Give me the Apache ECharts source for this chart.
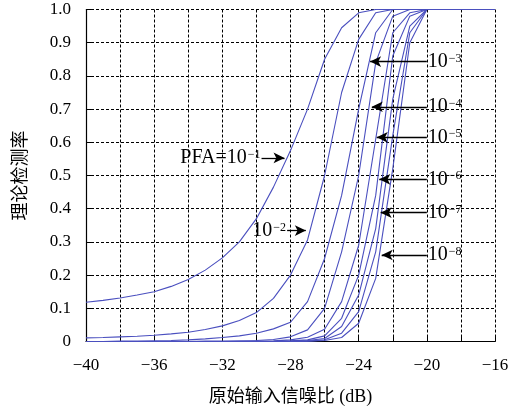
<!DOCTYPE html>
<html>
<head>
<meta charset="utf-8">
<script src="https://cdn.jsdelivr.net/npm/echarts@6/dist/echarts.min.js"></script>
<style>
html,body{margin:0;padding:0;background:#fff;}
#chart{width:516px;height:410px;}
</style>
</head>
<body>
<div id="chart"></div>
<script>
// SNR (dB)
const snr = [-40,-39,-38,-37,-36,-35,-34,-33,-32,-31,-30,-29,-28,-27,-26,-25,-24,-23,-22,-21,-20,-19,-18,-17,-16];
// detection probability curves, left to right
const pd1 = [0.118,0.124,0.131,0.14,0.15,0.166,0.187,0.215,0.252,0.30,0.37,0.465,0.575,0.70,0.85,0.945,0.99,1,1,1,1,1,1,1,1];
const pd2 = [0.011,0.012,0.014,0.016,0.019,0.023,0.028,0.036,0.047,0.063,0.087,0.13,0.2,0.306,0.5,0.75,0.91,0.99,1,1,1,1,1,1,1];
const pd3 = [0,0,0.001,0.001,0.002,0.003,0.005,0.008,0.012,0.017,0.025,0.038,0.058,0.12,0.25,0.44,0.70,0.93,1,1,1,1,1,1,1];
const pd4 = [0,0,0,0,0,0,0,0.001,0.001,0.002,0.003,0.006,0.014,0.035,0.1,0.27,0.5,0.84,0.98,1,1,1,1,1,1];
const pd5 = [0,0,0,0,0,0,0,0,0,0,0.001,0.002,0.005,0.013,0.037,0.12,0.29,0.61,0.93,0.99,1,1,1,1,1];
const pd6 = [0,0,0,0,0,0,0,0,0,0,0,0,0.002,0.005,0.017,0.07,0.2,0.44,0.86,0.98,1,1,1,1,1];
const pd7 = [0,0,0,0,0,0,0,0,0,0,0,0,0.001,0.003,0.009,0.045,0.14,0.34,0.73,0.95,1,1,1,1,1];
const pd8 = [0,0,0,0,0,0,0,0,0,0,0,0,0,0.001,0.005,0.025,0.09,0.27,0.62,0.93,1,1,1,1,1];
const pd9 = [0,0,0,0,0,0,0,0,0,0,0,0,0,0.001,0.003,0.012,0.055,0.19,0.52,0.9,1,1,1,1,1];
const curves = [pd1,pd2,pd3,pd4,pd5,pd6,pd7,pd8,pd9];

// annotation texts and arrows (data units)
const annoText = ['PFA=10','10','10','10','10','10','10','10'];
const annoExp = ['−1','−2','−3','−4','−5','−6','−7','−8'];
const annoTail = [[-29.7,0.553],[-28.2,0.334],[-20.0,0.843],[-20.0,0.707],[-20.0,0.615],[-20.0,0.4885],[-20.0,0.388],[-20.0,0.2605]];
const annoTip  = [[-28.35,0.553],[-27.1,0.334],[-23.33,0.843],[-23.23,0.707],[-22.94,0.615],[-22.79,0.4885],[-22.71,0.388],[-22.65,0.2605]];

const xTicks = {min:-40, max:-16, step:2, labelStep:4};
const serif = '"Liberation Serif","DejaVu Serif",serif';
const cjk = '"Liberation Serif","Noto Sans CJK SC",serif';

const chart = echarts.init(document.getElementById('chart'), null, {renderer:'canvas'});

const series = curves.map((c, k) => ({
  type: 'line',
  name: 'c' + (k + 1),
  data: snr.map((x, i) => [x, c[i]]),
  symbol: 'none',
  smooth: false,
  lineStyle: {color: '#4a4fbf', width: 1.1},
  silent: true,
  z: 3
}));

const markData = annoText.map((t, i) => [
  {coord: annoTail[i], label: {formatter: '{b|' + t + '}{s|' + annoExp[i] + '}'}},
  {coord: annoTip[i]}
]);

series.push({
  type: 'line',
  name: 'anno',
  data: [],
  silent: true,
  markLine: {
    silent: true,
    symbol: ['none', 'arrow'],
    symbolSize: [8, 11],
    lineStyle: {color: '#000', width: 1.3, type: 'solid'},
    itemStyle: {color: '#000'},
    label: {
      show: true,
      position: 'start',
      distance: 1,
      color: '#000',
      rich: {
        b: {fontFamily: serif, fontSize: 20, color: '#000', lineHeight: 18},
        s: {fontFamily: serif, fontSize: 12, color: '#000', lineHeight: 18, verticalAlign: 'top', padding: [0,0,0,1]}
      }
    },
    emphasis: {disabled: true},
    animation: false,
    data: markData
  },
  z: 5
});

chart.setOption({
  animation: false,
  backgroundColor: '#fff',
  grid: {left: 86, right: 21, top: 9.5, bottom: 68.5, containLabel: false, outerBoundsMode: 'none'},
  xAxis: {
    type: 'value',
    min: xTicks.min, max: xTicks.max, interval: xTicks.step,
    name: '原始输入信噪比 (dB)',
    nameLocation: 'middle',
    nameGap: 47,
    nameTextStyle: {fontFamily: cjk, fontSize: 18, color: '#000'},
    axisLine: {show: true, onZero: false, lineStyle: {color: '#000', width: 1.2}},
    axisTick: {show: true, inside: true, length: 5, lineStyle: {color: '#000'}},
    axisLabel: {
      color: '#000', fontFamily: serif, fontSize: 17, margin: 16,
      formatter: v => (v % xTicks.labelStep === 0) ? (v < 0 ? '−' + Math.abs(v) : String(v)) : ''
    },
    splitLine: {show: true, lineStyle: {color: '#000', type: [3, 2], width: 1}}
  },
  yAxis: {
    type: 'value',
    min: 0, max: 1, interval: 0.1,
    name: '理论检测率',
    nameLocation: 'middle',
    nameGap: 56,
    nameRotate: 90,
    nameTextStyle: {fontFamily: cjk, fontSize: 18, color: '#000'},
    axisLine: {show: true, lineStyle: {color: '#000', width: 1.2}},
    axisTick: {show: true, inside: true, length: 5, lineStyle: {color: '#000'}},
    axisLabel: {
      color: '#000', fontFamily: serif, fontSize: 17, margin: 15,
      formatter: v => v === 0 ? '0' : v.toFixed(1)
    },
    splitLine: {show: true, lineStyle: {color: '#000', type: [3, 2], width: 1}}
  },
  series: series
});
</script>
</body>
</html>
